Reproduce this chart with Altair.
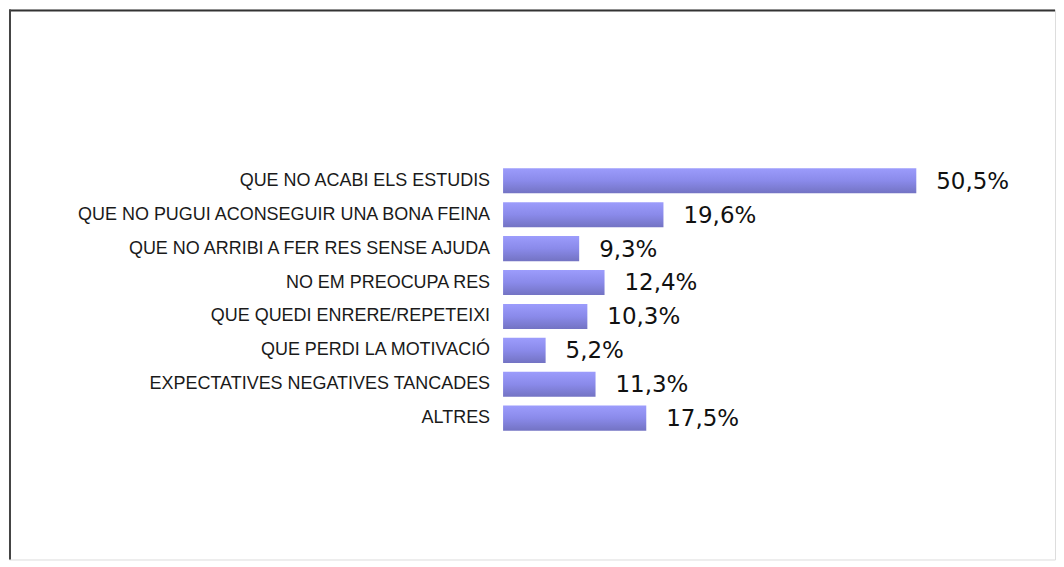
import altair as alt
import pandas as pd

categories = [
    "QUE NO ACABI ELS ESTUDIS",
    "QUE NO PUGUI ACONSEGUIR UNA BONA FEINA",
    "QUE NO ARRIBI A FER RES SENSE AJUDA",
    "NO EM PREOCUPA RES",
    "QUE QUEDI ENRERE/REPETEIXI",
    "QUE PERDI LA MOTIVACIÓ",
    "EXPECTATIVES NEGATIVES TANCADES",
    "ALTRES",
]
values = [50.5, 19.6, 9.3, 12.4, 10.3, 5.2, 11.3, 17.5]
value_labels = ["50,5%", "19,6%", "9,3%", "12,4%", "10,3%", "5,2%", "11,3%", "17,5%"]

df = pd.DataFrame({"cat": categories, "val": values, "lab": value_labels, "zero": [0] * len(values)})

W, H = 1048, 551
x_scale = alt.Scale(domain=[-60.38, 67.45], nice=False, zero=False)
y_scale = alt.Scale(domain=categories, range=[159, 422], paddingInner=0.26, paddingOuter=0)

base = alt.Chart(df)

grad = alt.Gradient(
    gradient="linear",
    stops=[
        alt.GradientStop(color="#9c9cfc", offset=0),
        alt.GradientStop(color="#8a8aea", offset=0.5),
        alt.GradientStop(color="#7373c3", offset=1),
    ],
    x1=0, x2=0, y1=0, y2=1,
)

bars = base.mark_bar(color=grad).encode(
    x=alt.X("zero:Q", scale=x_scale, axis=None),
    x2="val:Q",
    y=alt.Y("cat:N", scale=y_scale, axis=None, sort=categories),
)

cat_text = base.mark_text(
    align="right", baseline="middle", dx=-13, font="Liberation Sans", fontSize=18, color="#1a1a1a"
).encode(
    x=alt.X("zero:Q", scale=x_scale, axis=None),
    y=alt.Y("cat:N", scale=y_scale, axis=None, sort=categories),
    text="cat:N",
)

val_text = base.mark_text(
    align="left", baseline="middle", dx=20, dy=1, font="DejaVu Sans", fontSize=23, color="#111111"
).encode(
    x=alt.X("val:Q", scale=x_scale, axis=None),
    y=alt.Y("cat:N", scale=y_scale, axis=None, sort=categories),
    text="lab:N",
)

frame_top = alt.Chart(pd.DataFrame({"a": [0]})).mark_rule(color="#333333", strokeWidth=2).encode(
    x=alt.value(0), x2=alt.value(W), y=alt.value(1)
)
frame_left = alt.Chart(pd.DataFrame({"a": [0]})).mark_rule(color="#444444", strokeWidth=2).encode(
    x=alt.value(1), y=alt.value(0), y2=alt.value(H)
)

chart = alt.layer(bars, cat_text, val_text, frame_top, frame_left).properties(
    width=W, height=H, padding=0
).configure_view(stroke="transparent", strokeWidth=0).configure(background="white")

chart.save("out.html", embed_options={"renderer": "svg", "actions": False})
